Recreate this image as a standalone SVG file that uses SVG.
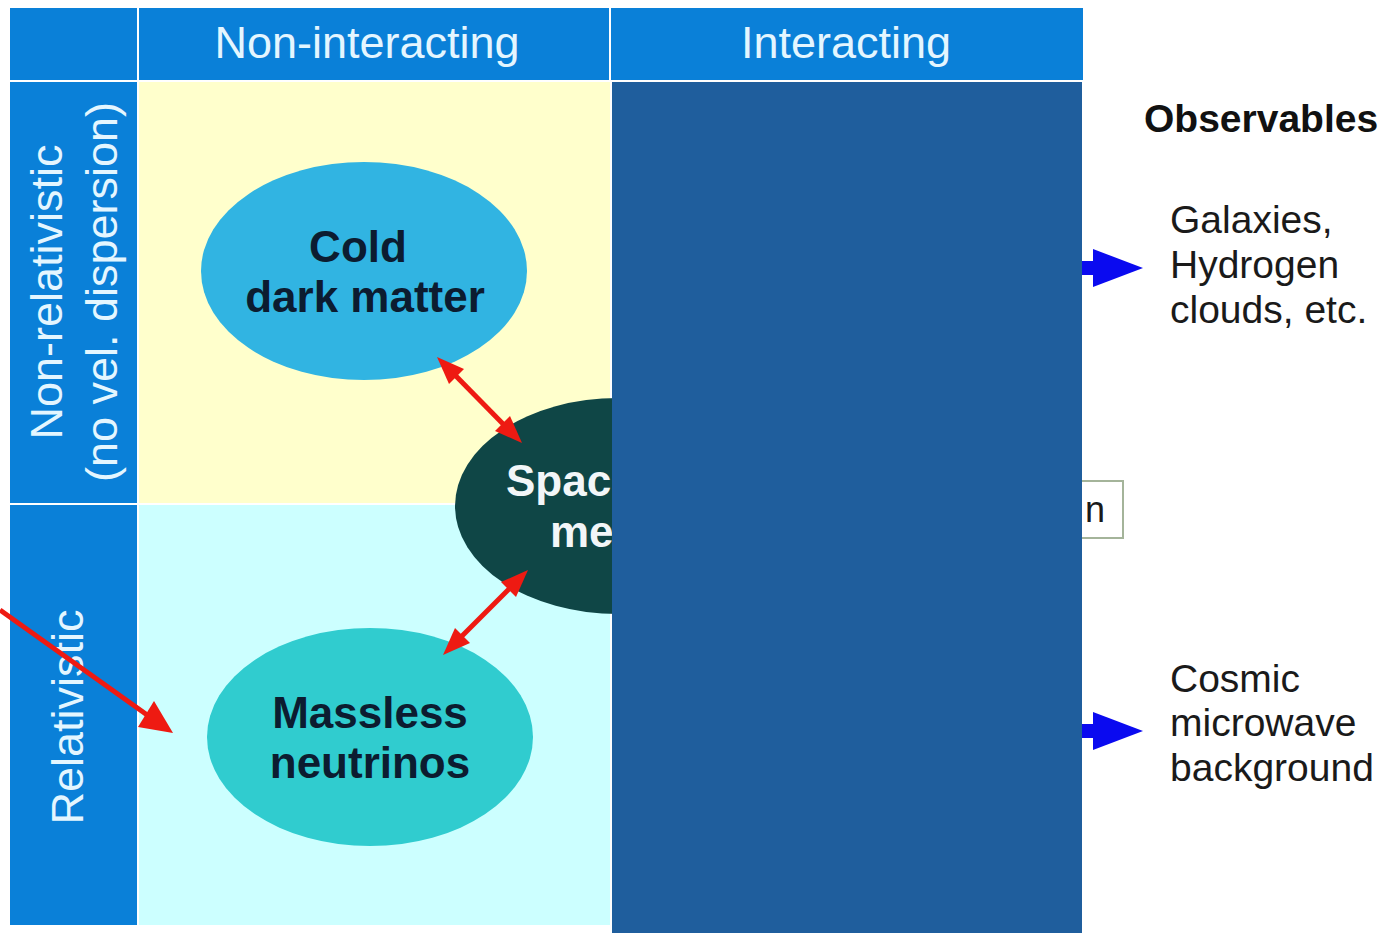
<svg xmlns="http://www.w3.org/2000/svg" width="1398" height="933" viewBox="0 0 1398 933">
<style>
.hdr{fill:#0a80d8}
.htxt{font-family:"Liberation Sans",Arial,sans-serif;font-size:45px;fill:#e4f6ff}
.ntxt{font-family:"Liberation Sans",Arial,sans-serif;font-size:44px;font-weight:bold;fill:#0c1c30;text-anchor:middle}
.otxt{font-family:"Liberation Sans",Arial,sans-serif;font-size:39px;fill:#1a1a1a}
.red{stroke:#ee1a12;stroke-width:5;fill:none}
.redh{fill:#ee1a12}
.blue{fill:#0a0af0}
</style>
<rect width="1398" height="933" fill="#ffffff"/>
<g id="grid">
  <rect class="hdr" x="10" y="8" width="127" height="72"/>
  <rect class="hdr" x="139" y="8" width="470" height="72"/>
  <rect class="hdr" x="611" y="8" width="472" height="72"/>
  <rect class="hdr" x="10" y="82" width="127" height="421"/>
  <rect class="hdr" x="10" y="505" width="127" height="420"/>
  <rect x="139" y="82" width="471" height="421" fill="#ffffcc"/>
  <rect x="139" y="505" width="471" height="420" fill="#ccffff"/>
</g>
<g id="headers">
  <text class="htxt" x="367" y="58" text-anchor="middle">Non-interacting</text>
  <text class="htxt" x="846" y="58" text-anchor="middle">Interacting</text>
  <text class="htxt" transform="translate(62,292) rotate(-90)" text-anchor="middle">Non-relativistic</text>
  <text class="htxt" transform="translate(117,292) rotate(-90)" text-anchor="middle">(no vel. dispersion)</text>
  <text class="htxt" transform="translate(83,717) rotate(-90)" text-anchor="middle">Relativistic</text>
</g>
<g id="node-cdm">
  <ellipse cx="364" cy="271" rx="163" ry="109" fill="#31b4e2"/>
  <text class="ntxt" x="358" y="262">Cold</text>
  <text class="ntxt" x="365" y="312">dark matter</text>
</g>
<g id="node-neutrinos">
  <ellipse cx="370" cy="737" rx="163" ry="109" fill="#30cccf"/>
  <text class="ntxt" x="370" y="728">Massless</text>
  <text class="ntxt" x="370" y="778">neutrinos</text>
</g>
<g id="node-spacetime">
  <ellipse cx="618" cy="506" rx="163" ry="108" fill="#0f4646"/>
  <text class="ntxt" x="506" y="496" style="fill:#f2f6f8;text-anchor:start">Spac</text>
  <text class="ntxt" x="550" y="547" style="fill:#f2f6f8;text-anchor:start">me</text>
</g>
<g id="connectors">
  <line class="red" x1="452" y1="372" x2="507" y2="428"/>
  <polygon class="redh" points="437,357 464,369 449,384"/>
  <polygon class="redh" points="522,443 495,431 510,416"/>
  <line class="red" x1="458" y1="640" x2="513" y2="585"/>
  <polygon class="redh" points="443,655 455,628 470,643"/>
  <polygon class="redh" points="528,570 516,597 501,582"/>
  <line class="red" x1="0" y1="610" x2="150" y2="717"/>
  <polygon class="redh" points="173,733 138,727 154,701"/>
  <rect x="1070" y="261" width="30" height="14" class="blue"/>
  <polygon class="blue" points="1093,249 1143,268 1093,287"/>
  <rect x="1070" y="724" width="30" height="14" class="blue"/>
  <polygon class="blue" points="1093,712 1143,731 1093,750"/>
</g>
<g id="node-box">
  <rect x="1060" y="481" width="63" height="57" fill="#ffffff" stroke="#a4b49a" stroke-width="2"/>
  <text class="otxt" x="1085" y="522" style="font-size:36px">n</text>
</g>
<g id="node-interacting">
  <rect x="612" y="82" width="470" height="851" fill="#1f5e9d"/>
</g>
<g id="observables">
  <text class="otxt" x="1144" y="132" style="font-weight:bold;font-size:39px;fill:#111">Observables</text>
  <text class="otxt" x="1170" y="233">Galaxies,</text>
  <text class="otxt" x="1170" y="278">Hydrogen</text>
  <text class="otxt" x="1170" y="323">clouds, etc.</text>
  <text class="otxt" x="1170" y="692">Cosmic</text>
  <text class="otxt" x="1170" y="736">microwave</text>
  <text class="otxt" x="1170" y="781">background</text>
</g>
</svg>
